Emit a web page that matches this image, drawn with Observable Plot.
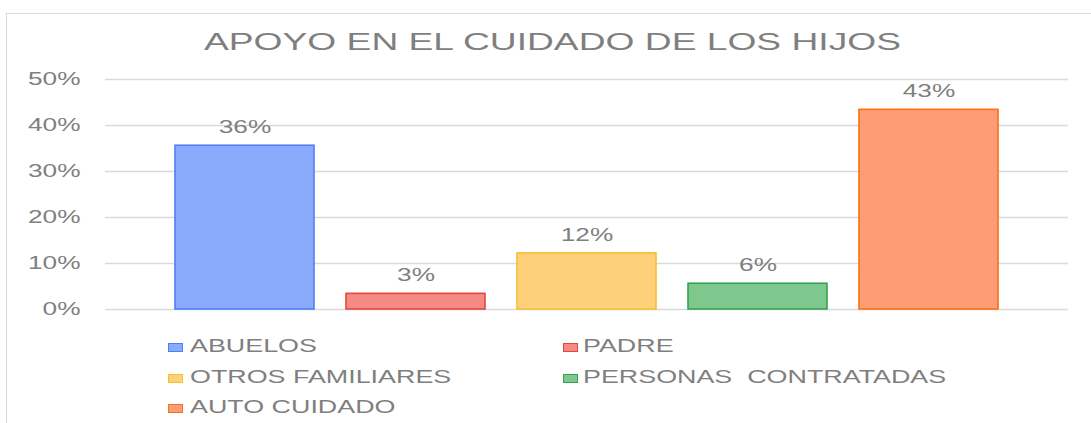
<!DOCTYPE html>
<html><head><meta charset="utf-8">
<script src="https://cdn.jsdelivr.net/npm/d3@7"></script>
<script src="https://cdn.jsdelivr.net/npm/@observablehq/plot@0.6"></script>
<style>
html,body{margin:0;padding:0;background:#fff;}
#wrap{position:relative;width:1091px;height:423px;overflow:hidden;font-family:"Liberation Sans",Arial,sans-serif;color:#7f7f7f;}
#frame{position:absolute;left:6px;top:13px;width:1200px;height:600px;border:1.5px solid #d9d9d9;box-sizing:border-box;pointer-events:none;}
#title{position:relative;height:62px;}
#title span{position:absolute;left:0;top:29.7px;font-size:24px;line-height:24px;white-space:pre;transform-origin:0 0;}
#chart{position:relative;height:260px;}
#chart svg{display:block;}
#legend{position:relative;height:101px;}
.lt{position:absolute;white-space:pre;font-size:17.5px;line-height:20px;transform-origin:0 0;transform:scaleX(1.535);}
.sw{position:absolute;width:15px;height:9px;border:1.5px solid;box-sizing:border-box;}
</style>
</head><body>
<div id="wrap">
  <div id="frame"></div>
  <div id="title"><span id="ttl"></span></div>
  <div id="chart"></div>
  <div id="legend"></div>
</div>
<script>
const titleText = "APOYO EN EL CUIDADO DE LOS HIJOS";
const categories = ["ABUELOS", "PADRE", "OTROS FAMILIARES", "PERSONAS  CONTRATADAS", "AUTO CUIDADO"];
const values = [0.356, 0.034, 0.122, 0.056, 0.434];
const valueLabels = ["36%", "3%", "12%", "6%", "43%"];
const yTicks = [0, 0.1, 0.2, 0.3, 0.4, 0.5];
const yTickLabels = ["0%", "10%", "20%", "30%", "40%", "50%"];

const fillColors = ["#8AAAFB", "#F38A84", "#FED07A", "#7FC88D", "#FE9C78"];
const strokeColors = ["#4E80F5", "#E5473E", "#F9BE2C", "#35A350", "#FD6F10"];
const textColor = "#7f7f7f";

const data = categories.map((c, i) => ({cat: c, v: values[i], label: valueLabels[i]}));

// Title
const ttl = document.getElementById("ttl");
ttl.textContent = titleText;
const tw = ttl.getBoundingClientRect().width;
const ts = 697 / tw;
ttl.style.transform = `scaleX(${ts})`;
ttl.style.left = (552 - tw * ts / 2) + "px";

const chart = Plot.plot({
  width: 1091,
  height: 260,
  marginLeft: 105,
  marginRight: 23,
  marginTop: 17,
  marginBottom: 13,
  style: {fontFamily: '"Liberation Sans", Arial, sans-serif', fontSize: "17.5px", color: textColor, background: "transparent"},
  x: {domain: categories, insetLeft: 52, insetRight: 52, paddingInner: 0.186, paddingOuter: 0.093, axis: null},
  y: {domain: [0, 0.5], axis: null},
  marks: [
    Plot.ruleY(yTicks, {stroke: "#d9d9d9", strokeWidth: 1.4}),
    Plot.axisY(yTicks, {tickSize: 0, tickPadding: 25, tickFormat: (d, i) => yTickLabels[yTicks.indexOf(d)], fill: textColor, fontSize: 17.5, label: null}),
    ...data.map((d, i) => Plot.barY([d], {x: "cat", y: "v", fill: fillColors[i], stroke: strokeColors[i], strokeWidth: 1.6})),
    Plot.text(data, {x: "cat", y: "v", text: "label", dy: -18, fill: textColor, fontSize: 17.5})
  ]
});
document.getElementById("chart").appendChild(chart);

// stretch text horizontally like the original
const sx = 1.5;
chart.querySelectorAll("text").forEach(t => {
  const bb = t.getBBox();
  const anchor = getComputedStyle(t).textAnchor;
  let ax = bb.x;
  if (anchor === "end") ax = bb.x + bb.width;
  else if (anchor === "middle") ax = bb.x + bb.width / 2;
  const prev = t.getAttribute("transform") || "";
  t.setAttribute("transform", `${prev} translate(${ax},0) scale(${sx},1) translate(${-ax},0)`);
});

// Legend
const legend = document.getElementById("legend");
const colX = [[168, 190], [563, 583]];
const rowText = [13.8, 44.8, 74.8];
const rowSw = [21, 52, 82];
categories.forEach((c, i) => {
  const col = i % 2, row = Math.floor(i / 2);
  const sw = document.createElement("div");
  sw.className = "sw";
  sw.style.left = colX[col][0] + "px";
  sw.style.top = rowSw[row] + "px";
  sw.style.background = fillColors[i];
  sw.style.borderColor = strokeColors[i];
  legend.appendChild(sw);
  const t = document.createElement("div");
  t.className = "lt";
  t.style.left = colX[col][1] + "px";
  t.style.top = rowText[row] + "px";
  t.textContent = c;
  legend.appendChild(t);
});
</script>
</body></html>
